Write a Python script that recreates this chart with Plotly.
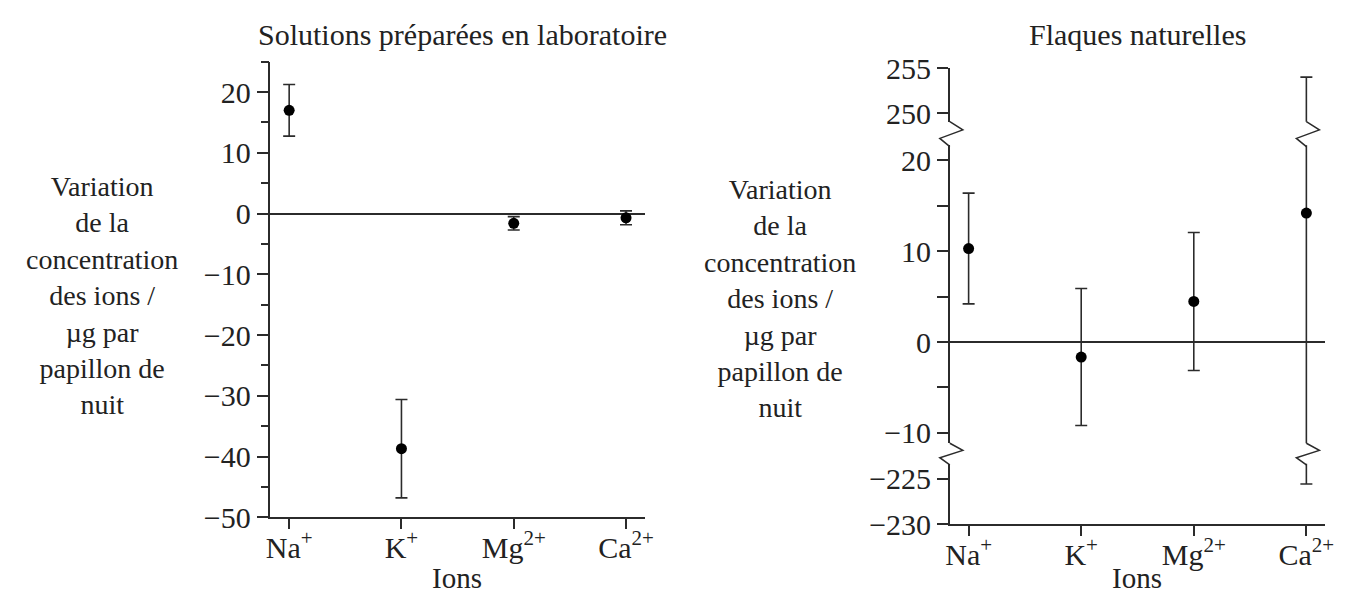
import plotly.graph_objects as go

# ---------------- data ----------------
ions = ["Na<sup>+</sup>", "K<sup>+</sup>", "Mg<sup>2+</sup>", "Ca<sup>2+</sup>"]

lab_mean = [17.0, -38.7, -1.6, -0.7]
lab_err = [4.25, 8.1, 1.1, 1.15]

nat_mean = [10.3, -1.65, 4.47, 14.2]
nat_err = [6.1, 7.55, 7.6, 239.8]

lab_yticks = [-50, -40, -30, -20, -10, 0, 10, 20]
nat_top_ticks = [250, 255]
nat_mid_ticks = [-10, 0, 10, 20]
nat_bot_ticks = [-230, -225]

left_title = "Solutions préparées en laboratoire"
right_title = "Flaques naturelles"
x_title = "Ions"
y_title = "Variation<br>de la<br>concentration<br>des ions /<br>µg par<br>papillon de<br>nuit"

# ---------------- layout helpers ----------------
W, H = 1352, 610
FONT = "Liberation Serif"
INK = "#2b2b2b"
LW = 1.5


def fx(p):
    return p / W


def fy(p):
    return 1 - p / H


L_X = (269, 647)
L_Y = (48.3, 530)
R_X = (955, 1334)
R_TOP = (55, 111.7)
R_MID = (136.7, 451.7)
R_BOT = (473.3, 537.3)
XR = [-0.167, 3.167]

fig = go.Figure()

marker = dict(color="black", size=11)


def err(vals):
    return dict(type="data", array=vals, visible=True, color=INK, thickness=1.6, width=6)


fig.add_trace(go.Scatter(x=ions, y=lab_mean, mode="markers", marker=marker,
                         error_y=err(lab_err), xaxis="x", yaxis="y", showlegend=False))
for ya in ["y2", "y3", "y4"]:
    fig.add_trace(go.Scatter(x=ions, y=nat_mean, mode="markers", marker=marker,
                             error_y=err(nat_err), xaxis="x2", yaxis=ya, showlegend=False))

tickfont = dict(family=FONT, size=30, color="#222")
common_axis = dict(showline=True, linecolor=INK, linewidth=LW, ticks="outside",
                   tickcolor=INK, tickwidth=LW, showgrid=False, tickfont=tickfont,
                   fixedrange=True)

fig.update_layout(
    width=W, height=H,
    margin=dict(l=0, r=0, t=0, b=0),
    paper_bgcolor="white", plot_bgcolor="white",
    showlegend=False,
    xaxis=dict(domain=[fx(L_X[0]), fx(L_X[1])], range=XR, anchor="y", ticklen=10,
               ticklabelstandoff=-7, zeroline=False, **common_axis),
    yaxis=dict(domain=[fy(L_Y[1]), fy(L_Y[0])], range=[-50, 25], anchor="x",
               tickmode="array", tickvals=lab_yticks, ticklen=12,
               minor=dict(dtick=5, tick0=0, ticks="outside", ticklen=8, tickcolor=INK,
                          tickwidth=LW, showgrid=False),
               zeroline=True, zerolinecolor=INK, zerolinewidth=LW, **common_axis),
    xaxis2=dict(domain=[fx(R_X[0]), fx(R_X[1])], range=XR, anchor="y4", ticklen=10,
                ticklabelstandoff=-7, zeroline=False, **common_axis),
    yaxis2=dict(domain=[fy(R_TOP[1]), fy(R_TOP[0])], range=[249.1, 255], anchor="x2",
                tickmode="array", tickvals=nat_top_ticks, ticklen=11, zeroline=False,
                **common_axis),
    yaxis3=dict(domain=[fy(R_MID[1]), fy(R_MID[0])], range=[-11.15, 21.67], anchor="x2",
                tickmode="array", tickvals=nat_mid_ticks, ticklen=11,
                minor=dict(dtick=5, tick0=0, ticks="outside", ticklen=11, tickcolor=INK,
                           tickwidth=LW, showgrid=False),
                zeroline=True, zerolinecolor=INK, zerolinewidth=LW, **common_axis),
    yaxis4=dict(domain=[fy(R_BOT[1]), fy(R_BOT[0])], range=[-230, -223.37], anchor="x2",
                tickmode="array", tickvals=nat_bot_ticks, ticklen=11, zeroline=False,
                **common_axis),
)


# axis-break zigzags (on the y axis line and on the Ca2+ error bar)
def zigzag(gap):
    return f"M0,0 L13,{-gap*0.33:.2f} L-10,{-gap*0.67:.2f} L0,{-gap:.2f}"


top_gap = R_MID[0] - R_TOP[1]
bot_gap = R_BOT[0] - R_MID[1]
for yref, gap in [("y2 domain", top_gap), ("y3 domain", bot_gap)]:
    fig.add_shape(type="path", xref="x2 domain", yref=yref, xsizemode="pixel",
                  ysizemode="pixel", xanchor=0, yanchor=0, path=zigzag(gap),
                  line=dict(color=INK, width=LW))
    fig.add_shape(type="path", xref="x2", yref=yref, xsizemode="pixel",
                  ysizemode="pixel", xanchor=3, yanchor=0, path=zigzag(gap),
                  line=dict(color=INK, width=LW))

# ---------------- texts ----------------
txt = dict(family=FONT, size=28, color="#222")
for t, xc in [(left_title, 463), (right_title, 1145)]:
    fig.add_annotation(text=t, x=fx(xc), y=fy(20), xref="paper", yref="paper",
                       showarrow=False, xanchor="center", yanchor="middle",
                       font=dict(family=FONT, size=30, color="#222"))
for xc in [457, 1144]:
    fig.add_annotation(text=x_title, x=fx(xc), y=fy(594), xref="paper", yref="paper",
                       showarrow=False, xanchor="center", yanchor="middle",
                       font=dict(family=FONT, size=29, color="#222"))
for xc, yc in [(99, 295), (784, 299)]:
    fig.add_annotation(text=y_title, x=fx(xc), y=fy(yc), xref="paper", yref="paper",
                       showarrow=False, xanchor="center", yanchor="middle", align="center",
                       font=txt)

fig.write_html("out.html", config={"displayModeBar": False},
               post_script="document.body.style.margin='0';document.documentElement.style.overflow='hidden';")
